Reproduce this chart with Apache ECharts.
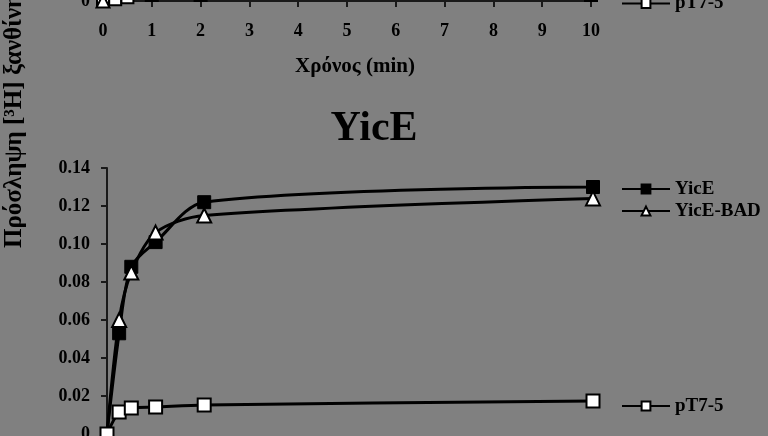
<!DOCTYPE html>
<html>
<head>
<meta charset="utf-8">
<script src="https://cdn.jsdelivr.net/npm/echarts@6/dist/echarts.min.js"></script>
<style>
html,body{margin:0;padding:0;background:#808080;}
#chart{width:768px;height:436px;}
</style>
</head>
<body>
<div id="chart"></div>
<script>
// Time points (min)
var timePoints = [0, 0.25, 0.5, 1, 2, 10];
// Lower chart (YicE) series values
var yicE    = [0, 0.053, 0.088, 0.101, 0.122, 0.130];
var yicEBAD = [0, 0.060, 0.085, 0.106, 0.115, 0.124];
var pT75    = [0, 0.0116, 0.0137, 0.0142, 0.0153, 0.0174];
// Upper (cropped) chart: only the lowest parts are visible
var topPT75 = [0, 0.0008, 0.0018, 0.0028, 0.0028, 0.0028];
var topTri  = [0];
// Axis ticks
var xTicks = [0, 1, 2, 3, 4, 5, 6, 7, 8, 9, 10];
var yTicks = [0, 0.02, 0.04, 0.06, 0.08, 0.10, 0.12, 0.14];

var titleText = 'YicE';
var xName = 'Χρόνος (min)';
var yName = 'Πρόσληψη [³H] ξανθίνης';

function pairs(xs, ys) { return ys.map(function (v, i) { return [xs[i], v]; }); }

var FONT = '"Liberation Serif", "DejaVu Serif", serif';
var labelStyle = { color: '#000', fontSize: 18, fontWeight: 'bold', fontFamily: FONT };
var axisLineStyle = { show: true, lineStyle: { color: '#1a1a1a', width: 2 } };
var tickStyle = { show: true, inside: false, length: 6, lineStyle: { color: '#1a1a1a', width: 2 } };

function yFmt(v) { return v === 0 ? '0' : v.toFixed(2); }

var chart = echarts.init(document.getElementById('chart'), null, { renderer: 'canvas' });
chart.setOption({
  backgroundColor: '#808080',
  animation: false,
  title: {
    text: titleText,
    left: 369, top: 103, textAlign: 'center',
    textStyle: { color: '#000', fontSize: 42, fontWeight: 'bold', fontFamily: FONT }
  },
  graphic: [{
    type: 'text',
    x: 15, y: 248,
    rotation: Math.PI / 2,
    style: {
      text: yName,
      fill: '#000',
      font: 'bold 25px ' + FONT,
      textAlign: 'left',
      textVerticalAlign: 'middle'
    }
  }],
  legend: [
    {
      data: ['YicE', 'YicE-BAD'],
      orient: 'vertical', left: 616, top: 174.5,
      itemWidth: 48, itemHeight: 11, itemGap: 3,
      textStyle: { color: '#000', fontSize: 19, fontWeight: 'bold', fontFamily: FONT }
    },
    {
      data: ['pT7-5'],
      orient: 'vertical', left: 616, top: 391.5,
      itemWidth: 48, itemHeight: 11,
      textStyle: { color: '#000', fontSize: 19, fontWeight: 'bold', fontFamily: FONT }
    },
    {
      data: ['pT7-5'],
      orient: 'vertical', left: 616, top: -11,
      itemWidth: 48, itemHeight: 11,
      textStyle: { color: '#000', fontSize: 19, fontWeight: 'bold', fontFamily: FONT }
    }
  ],
  grid: [
    { left: 103, right: 177, top: -299, height: 300, outerBoundsMode: 'none', containLabel: false },
    { left: 107, right: 175, top: 168, height: 266, outerBoundsMode: 'none', containLabel: false }
  ],
  xAxis: [
    {
      gridIndex: 0, type: 'value', min: xTicks[0], max: xTicks[xTicks.length - 1], interval: 1,
      axisLine: axisLineStyle, axisTick: tickStyle, splitLine: { show: false },
      axisLabel: Object.assign({ margin: 21 }, labelStyle),
      name: xName, nameLocation: 'middle', nameGap: 55,
      nameTextStyle: { color: '#000', fontSize: 21, fontWeight: 'bold', fontFamily: FONT, padding: [0, 0, 0, 16] }
    },
    {
      gridIndex: 1, type: 'value', min: xTicks[0], max: xTicks[xTicks.length - 1], interval: 1,
      axisLine: { show: false }, axisTick: { show: false }, splitLine: { show: false },
      axisLabel: { show: false }
    }
  ],
  yAxis: [
    {
      gridIndex: 0, type: 'value', min: yTicks[0], max: yTicks[yTicks.length - 1], interval: 0.02,
      axisLine: axisLineStyle, axisTick: tickStyle, splitLine: { show: false },
      axisLabel: Object.assign({ margin: 13, formatter: yFmt }, labelStyle)
    },
    {
      gridIndex: 1, type: 'value', min: yTicks[0], max: yTicks[yTicks.length - 1], interval: 0.02,
      axisLine: axisLineStyle, axisTick: tickStyle, splitLine: { show: false },
      axisLabel: Object.assign({ margin: 17, formatter: yFmt }, labelStyle)
    }
  ],
  series: [
    {
      name: 'pT7-5', type: 'line', xAxisIndex: 0, yAxisIndex: 0,
      data: pairs(timePoints, topPT75), smooth: 0.3,
      symbol: 'rect', symbolSize: 12,
      itemStyle: { color: '#fff', borderColor: '#000', borderWidth: 2 },
      lineStyle: { color: '#000', width: 3 }
    },
    {
      name: 'top', type: 'line', xAxisIndex: 0, yAxisIndex: 0,
      data: pairs(timePoints, topTri),
      symbol: 'triangle', symbolSize: 13,
      itemStyle: { color: '#fff', borderColor: '#000', borderWidth: 2 },
      lineStyle: { color: '#000', width: 3 }
    },
    {
      name: 'YicE', type: 'line', xAxisIndex: 1, yAxisIndex: 1,
      data: pairs(timePoints, yicE), smooth: 0.3,
      symbol: 'rect', symbolSize: 13,
      itemStyle: { color: '#000', borderColor: '#000', borderWidth: 1 },
      lineStyle: { color: '#000', width: 3 }
    },
    {
      name: 'YicE-BAD', type: 'line', xAxisIndex: 1, yAxisIndex: 1,
      data: pairs(timePoints, yicEBAD), smooth: 0.3,
      symbol: 'triangle', symbolSize: 14,
      itemStyle: { color: '#fff', borderColor: '#000', borderWidth: 2 },
      lineStyle: { color: '#000', width: 3 }
    },
    {
      name: 'pT7-5', type: 'line', xAxisIndex: 1, yAxisIndex: 1,
      data: pairs(timePoints, pT75), smooth: 0.3,
      symbol: 'rect', symbolSize: 13,
      itemStyle: { color: '#fff', borderColor: '#000', borderWidth: 2 },
      lineStyle: { color: '#000', width: 3 }
    }
  ]
});
</script>
</body>
</html>
